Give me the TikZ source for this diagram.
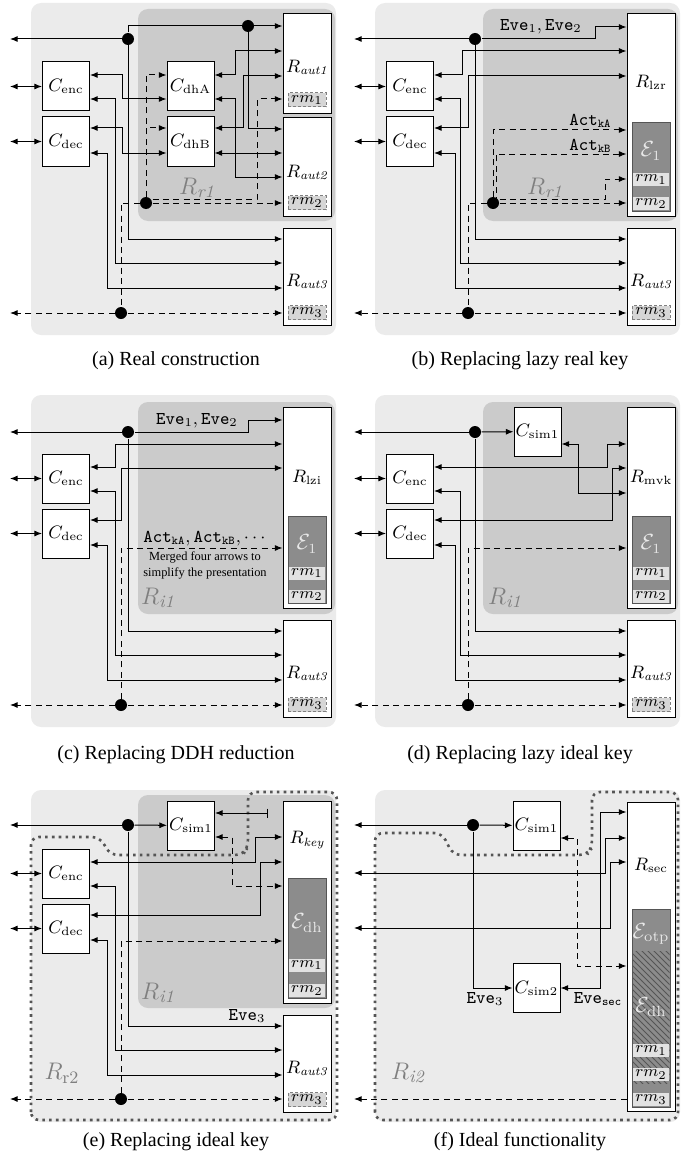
\documentclass[tikz,border=0pt]{standalone}
\usepackage{amsmath}
\usepackage{amssymb}
\usepackage{fontspec}
\newfontfamily\capfont{Liberation Serif}
\usetikzlibrary{arrows.meta,patterns}
\definecolor{bglight}{HTML}{EBEBEB}
\definecolor{bgdark}{HTML}{CBCBCB}
\definecolor{egray}{HTML}{8C8C8C}
\definecolor{rmgray}{HTML}{E2E2E2}
\definecolor{rmdashgray}{HTML}{D6D6D6}
\definecolor{lblgray}{HTML}{7F7F7F}
\definecolor{elight}{HTML}{E8E8E8}
\definecolor{lnk}{HTML}{555555}

\begin{document}
\begin{tikzpicture}[x=0.5pt,y=-0.5pt, font=\fontsize{9}{11}\selectfont, line width=0.5pt,
  >={Latex[length=3.8pt,width=3pt]},
  lightbg/.style={fill=bglight, rounded corners=5pt},
  darkbg/.style={fill=bgdark, rounded corners=5pt},
  cbox/.style={draw, fill=white, minimum width=23.5pt, minimum height=24.5pt, inner sep=0pt},
  rbox/.style={draw, fill=white, minimum width=24pt, inner sep=0pt},
  ebox/.style={draw=lnk, fill=egray, minimum width=19pt, inner sep=0pt},
  rmstrip/.style={fill=rmgray, minimum width=18pt, minimum height=6.5pt, inner sep=0pt, font=\fontsize{8}{9}\selectfont},
  rmdash/.style={draw=gray, fill=rmdashgray, dash pattern=on 1.5pt off 1pt, minimum width=19pt, minimum height=7pt, inner sep=0pt, font=\fontsize{8}{9}\selectfont},
  junction/.style={circle, fill, inner sep=0pt, minimum size=6pt},
  dlink/.style={dash pattern=on 3pt off 2.2pt},
  reglabel/.style={text=lblgray, font=\fontsize{12.5}{14}\selectfont},
  elabel/.style={text=elight, font=\fontsize{10.5}{12}\selectfont},
  regionline/.style={draw=lnk, line width=1.3pt, dash pattern=on 1.3pt off 2.1pt, rounded corners=4pt},
  captext/.style={font=\capfont\fontsize{10}{12}\selectfont, anchor=base},
  notetext/.style={font=\capfont\fontsize{6.2}{8}\selectfont, align=center}]
\useasboundingbox (0,0) rectangle (680,1161);

% (a)
\begin{scope}
  \fill[lightbg] (31,3) rectangle (336,335);
  \fill[darkbg] (138,9) rectangle (335,221);
  \node[reglabel] (a-reg) at (197,188) {$R_{\mathit{r1}}$};
  \coordinate (a-l) at (10,0);
  \node[cbox] (a-enc) at (66,86.5) {$C_{\mathrm{enc}}$};
  \node[cbox] (a-dec) at (66,141.5) {$C_{\mathrm{dec}}$};
  \node[cbox] (a-dhA) at (190.5,86.5) {$C_{\mathrm{dhA}}$};
  \node[cbox] (a-dhB) at (190.5,141.5) {$C_{\mathrm{dhB}}$};
  \node[rbox, minimum height=50pt] (a-aut1) at (307,64) {};
  \node (a-aut1-t) at (307,67) {$R_{\mathit{aut1}}$};
  \node[rmdash] (a-rm1) at (307,100) {$rm_1$};
  \node[rbox, minimum height=49pt] (a-aut2) at (307,167) {};
  \node (a-aut2-t) at (307,172) {$R_{\mathit{aut2}}$};
  \node[rmdash] (a-rm2) at (307,202.5) {$rm_2$};
  \node[rbox, minimum height=48.5pt] (a-aut3) at (307,276.5) {};
  \node (a-aut3-t) at (307,281) {$R_{\mathit{aut3}}$};
  \node[rmdash] (a-rm3) at (307,312.5) {$rm_3$};
  \node[junction] (a-j1) at (128,39) {};
  \node[junction] (a-j2) at (248,26) {};
  \node[junction] (a-j3) at (146,203) {};
  \node[junction] (a-j4) at (121,313) {};
  \draw[->] (a-j1) -- (a-j1 -| a-l);
  \draw[->] (a-j1) |- (a-aut1.west |- a-j2);
  \draw[->] (a-j2) |- (a-aut2.west |- 0,129);
  \draw[->] (a-j1) |- (a-aut3.west |- 0,239);
  \draw[<->] (a-enc.west) -- (a-enc.west -| a-l);
  \draw[<->] (a-dec.west) -- (a-dec.west -| a-l);
  \draw[<->] (a-enc.east |- 0,75) -| (122,99) -- (a-dhA.west |- 0,99);
  \draw[<->] (a-enc.east |- 0,99) -| (115,263) -- (a-aut3.west |- 0,263);
  \draw[<->] (a-dec.east |- 0,128) -| (122,153) -- (a-dhB.west |- 0,153);
  \draw[<->] (a-dec.east |- 0,153) -| (107,288) -- (a-aut3.west |- 0,288);
  \draw[<->] (a-dhA.east |- 0,75) -| (235,51) -- (a-aut1.west |- 0,51);
  \draw[<->] (a-dhA.east |- 0,99) -| (235,177) -- (a-aut2.west |- 0,177);
  \draw[<->] (a-dhB.east |- 0,128) -| (243,76) -- (a-aut1.west |- 0,76);
  \draw[<->] (a-dhB.east |- 0,153) -- (a-aut2.west |- 0,153);
  \draw[dlink] (a-j3) -| (a-j4);
  \draw[dlink,->] (a-j3) |- (a-dhA.west |- 0,75);
  \draw[dlink,->] (a-j3) |- (a-dhB.west |- 0,128);
  \draw[dlink,->] (a-j3) -- (a-j3 -| a-aut2.west);
  \draw[dlink,->] (a-j3.east |- 0,199) -| (257,99) -- (a-aut1.west |- 0,99);
  \draw[dlink,->] (a-j4) -- (a-j4 -| a-l);
  \draw[dlink,->] (a-j4) -- (a-j4 -| a-aut3.west);
\end{scope}

% (b)
\begin{scope}[shift={(344,0)}]
  \fill[lightbg] (31,3) rectangle (336,335);
  \fill[darkbg] (139,9) rectangle (334,221);
  \node[reglabel] (b-reg) at (201,188) {$R_{\mathit{r1}}$};
  \coordinate (b-l) at (10,0);
  \node[cbox] (b-enc) at (66,86.5) {$C_{\mathrm{enc}}$};
  \node[cbox] (b-dec) at (66,141.5) {$C_{\mathrm{dec}}$};
  \node[rbox, minimum height=101pt] (b-lzr) at (307,115) {};
  \node (b-lzr-t) at (307,82) {$R_{\mathrm{lzr}}$};
  \node[ebox, minimum height=44pt] (b-e) at (307,167) {};
  \node[elabel] (b-e-t) at (307,151) {$\mathcal{E}_1$};
  \node[rmstrip] (b-rm1) at (307,179.5) {$rm_1$};
  \node[rmstrip] (b-rm2) at (307,203.5) {$rm_2$};
  \node[rbox, minimum height=48.5pt] (b-aut3) at (307,276.5) {};
  \node (b-aut3-t) at (307,281) {$R_{\mathit{aut3}}$};
  \node[rmdash] (b-rm3) at (307,312.5) {$rm_3$};
  \node[junction] (b-j1) at (131,39) {};
  \node[junction] (b-j3) at (149,203) {};
  \node[junction] (b-j4) at (124,313) {};
  \draw[->] (b-j1) -- (b-j1 -| b-l);
  \draw[->] (b-j1) -| (251,27) -- (b-lzr.west |- 0,27);
  \node (b-eve) at (197,27) {$\texttt{Eve}_1,\texttt{Eve}_2$};
  \draw[->] (b-j1) |- (b-aut3.west |- 0,239);
  \draw[<->] (b-enc.west) -- (b-enc.west -| b-l);
  \draw[<->] (b-dec.west) -- (b-dec.west -| b-l);
  \draw[<->] (b-enc.east |- 0,75) -| (118,51) -- (b-lzr.west |- 0,51);
  \draw[<->] (b-dec.east |- 0,128) -| (124,76) -- (b-lzr.west |- 0,76);
  \draw[<->] (b-enc.east |- 0,99) -| (116,263) -- (b-aut3.west |- 0,263);
  \draw[<->] (b-dec.east |- 0,153) -| (111,288) -- (b-aut3.west |- 0,288);
  \draw[dlink] (b-j3) -| (b-j4);
  \draw[dlink,->] (b-j3) |- (b-lzr.west |- 0,130);
  \draw[dlink,->] ([xshift=1.5pt]b-j3.center) |- (b-lzr.west |- 0,154);
  \node[anchor=base east, inner sep=0pt] (b-actA) at (268,126) {$\texttt{Act}_{\texttt{kA}}$};
  \node[anchor=base east, inner sep=0pt] (b-actB) at (268,150) {$\texttt{Act}_{\texttt{kB}}$};
  \draw[dlink,->] (b-j3.east |- 0,199) -| (261,179) -- (b-lzr.west |- 0,179);
  \draw[dlink,->] (b-j3) -- (b-j3 -| b-lzr.west);
  \draw[dlink,->] (b-j4) -- (b-j4 -| b-l);
  \draw[dlink,->] (b-j4) -- (b-j4 -| b-aut3.west);
\end{scope}

% (c)
\begin{scope}[shift={(0,392)}]
  \fill[lightbg] (31,3) rectangle (336,335);
  \fill[darkbg] (138,10) rectangle (335,222);
  \node[reglabel] (c-reg) at (158,206) {$R_{\mathit{i1}}$};
  \coordinate (c-l) at (10,0);
  \node[cbox] (c-enc) at (66,86.5) {$C_{\mathrm{enc}}$};
  \node[cbox] (c-dec) at (66,141.5) {$C_{\mathrm{dec}}$};
  \node[rbox, minimum height=100.5pt] (c-lzi) at (307,115.5) {};
  \node (c-lzi-t) at (307,85) {$R_{\mathrm{lzi}}$};
  \node[ebox, minimum height=43.5pt] (c-e) at (307,167.5) {};
  \node[elabel] (c-e-t) at (307,152) {$\mathcal{E}_1$};
  \node[rmstrip] (c-rm1) at (307,181) {$rm_1$};
  \node[rmstrip] (c-rm2) at (307,204) {$rm_2$};
  \node[rbox, minimum height=48.5pt] (c-aut3) at (307,276.5) {};
  \node (c-aut3-t) at (307,281) {$R_{\mathit{aut3}}$};
  \node[rmdash] (c-rm3) at (307,312.5) {$rm_3$};
  \node[junction] (c-j1) at (128,40) {};
  \node[junction] (c-j4) at (121,313) {};
  \draw[->] (c-j1) -- (c-j1 -| c-l);
  \draw[->] (c-j1) -| (248,28) -- (c-lzi.west |- 0,28);
  \node (c-eve) at (197,29) {$\texttt{Eve}_1,\texttt{Eve}_2$};
  \draw[->] (c-j1) |- (c-aut3.west |- 0,239);
  \draw[<->] (c-enc.west) -- (c-enc.west -| c-l);
  \draw[<->] (c-dec.west) -- (c-dec.west -| c-l);
  \draw[<->] (c-enc.east |- 0,75) -| (115,52) -- (c-lzi.west |- 0,52);
  \draw[<->] (c-dec.east |- 0,128) -| (121,76) -- (c-lzi.west |- 0,76);
  \draw[<->] (c-enc.east |- 0,99) -| (115,263) -- (c-aut3.west |- 0,263);
  \draw[<->] (c-dec.east |- 0,153) -| (107,288) -- (c-aut3.west |- 0,288);
  \draw[dlink,->] (c-j4) |- (c-lzi.west |- 0,156);
  \node[anchor=base, inner sep=0pt] (c-act) at (206,150) {$\texttt{Act}_{\texttt{kA}},\texttt{Act}_{\texttt{kB}},\cdots$};
  \node[notetext] (c-note) at (205,173) {Merged four arrows to\\simplify the presentation};
  \draw[dlink,->] (c-j4) -- (c-j4 -| c-l);
  \draw[dlink,->] (c-j4) -- (c-j4 -| c-aut3.west);
\end{scope}

% (d)
\begin{scope}[shift={(344,392)}]
  \fill[lightbg] (31,3) rectangle (336,335);
  \fill[darkbg] (139,10) rectangle (334,222);
  \node[reglabel] (d-reg) at (161,206) {$R_{\mathit{i1}}$};
  \coordinate (d-l) at (10,0);
  \node[cbox] (d-enc) at (66,86.5) {$C_{\mathrm{enc}}$};
  \node[cbox] (d-dec) at (66,141.5) {$C_{\mathrm{dec}}$};
  \node[cbox] (d-sim1) at (193.5,39.5) {$C_{\mathrm{sim1}}$};
  \node[rbox, minimum height=100.5pt] (d-mvk) at (307,115.5) {};
  \node (d-mvk-t) at (307,85) {$R_{\mathrm{mvk}}$};
  \node[ebox, minimum height=43.5pt] (d-e) at (307,167.5) {};
  \node[elabel] (d-e-t) at (307,152) {$\mathcal{E}_1$};
  \node[rmstrip] (d-rm1) at (307,181) {$rm_1$};
  \node[rmstrip] (d-rm2) at (307,204) {$rm_2$};
  \node[rbox, minimum height=48.5pt] (d-aut3) at (307,276.5) {};
  \node (d-aut3-t) at (307,281) {$R_{\mathit{aut3}}$};
  \node[rmdash] (d-rm3) at (307,312.5) {$rm_3$};
  \node[junction] (d-j1) at (131,40) {};
  \node[junction] (d-j4) at (124,313) {};
  \draw[->] (d-j1) -- (d-j1 -| d-l);
  \draw[->] (d-j1) -- (d-sim1);
  \draw[->] (d-j1) |- (d-aut3.west |- 0,239);
  \draw[<->] (d-enc.west) -- (d-enc.west -| d-l);
  \draw[<->] (d-dec.west) -- (d-dec.west -| d-l);
  \draw[<->] (d-sim1.east |- 0,52) -| (234,101) -- (d-mvk.west |- 0,101);
  \draw[<->] (d-enc.east |- 0,75) -| (263,52) -- (d-mvk.west |- 0,52);
  \draw[<->] (d-dec.east |- 0,128) -| (268,76) -- (d-mvk.west |- 0,76);
  \draw[<->] (d-enc.east |- 0,99) -| (116,263) -- (d-aut3.west |- 0,263);
  \draw[<->] (d-dec.east |- 0,153) -| (111,288) -- (d-aut3.west |- 0,288);
  \draw[dlink,->] (d-j4) |- (d-mvk.west |- 0,156);
  \draw[dlink,->] (d-j4) -- (d-j4 -| d-l);
  \draw[dlink,->] (d-j4) -- (d-j4 -| d-aut3.west);
\end{scope}

% (e)
\begin{scope}[shift={(0,787)}]
  \fill[lightbg] (31,3) rectangle (336,335);
  \fill[darkbg] (138,8) rectangle (335,221);
  \draw[regionline] (31,333) -- (31,50) -- (100,50) -- (110,68) -- (243,68) -- (248,60)
    -- (248,5) -- (337,5) -- (337,333) -- cycle;
  \node[reglabel] (e-reg) at (158,206) {$R_{\mathit{i1}}$};
  \node[reglabel] (e-reg2) at (62,286) {$R_{\mathrm{r2}}$};
  \coordinate (e-l) at (10,0);
  \coordinate (e-bar) at (268,26);
  \node[cbox] (e-enc) at (66,86.5) {$C_{\mathrm{enc}}$};
  \node[cbox] (e-dec) at (66,141.5) {$C_{\mathrm{dec}}$};
  \node[cbox] (e-sim1) at (191,38.5) {$C_{\mathrm{sim1}}$};
  \node[rbox, minimum height=101pt] (e-key) at (307,115) {};
  \node (e-key-t) at (307,53) {$R_{\mathit{key}}$};
  \node[ebox, minimum height=60pt] (e-e) at (307,151) {};
  \node[elabel] (e-e-t) at (307,136) {$\mathcal{E}_{\mathrm{dh}}$};
  \node[rmstrip] (e-rm1) at (307,178) {$rm_1$};
  \node[rmstrip] (e-rm2) at (307,203.5) {$rm_2$};
  \node[rbox, minimum height=48.5pt] (e-aut3) at (307,276.5) {};
  \node (e-aut3-t) at (307,281) {$R_{\mathit{aut3}}$};
  \node[rmdash] (e-rm3) at (307,312.5) {$rm_3$};
  \node[junction] (e-j1) at (128,38) {};
  \node[junction] (e-j4) at (121,312) {};
  \draw[->] (e-j1) -- (e-j1 -| e-l);
  \draw[->] (e-j1) -- (e-sim1);
  \draw[->] (e-j1) |- (e-aut3.west |- 0,239);
  \node (e-eve) at (247,229) {$\texttt{Eve}_3$};
  \draw[<-{Bar[width=4.5pt]}] (e-sim1.east |- e-bar) -- (e-bar);
  \draw[dlink,<->] (e-sim1.east |- 0,50) -| (232,99) -- (e-key.west |- 0,99);
  \draw[<->] (e-enc.west) -- (e-enc.west -| e-l);
  \draw[<->] (e-dec.west) -- (e-dec.west -| e-l);
  \draw[<->] (e-enc.east |- 0,75) -| (255,50) -- (e-key.west |- 0,50);
  \draw[<->] (e-dec.east |- 0,128) -| (260,75) -- (e-key.west |- 0,75);
  \draw[<->] (e-enc.east |- 0,99) -| (115,263) -- (e-aut3.west |- 0,263);
  \draw[<->] (e-dec.east |- 0,153) -| (107,288) -- (e-aut3.west |- 0,288);
  \draw[dlink,->] (e-j4) |- (e-key.west |- 0,154);
  \draw[dlink,->] (e-j4) -- (e-j4 -| e-l);
  \draw[dlink,->] (e-j4) -- (e-j4 -| e-aut3.west);
\end{scope}

% (f)
\begin{scope}[shift={(344,787)}]
  \fill[lightbg] (31,3) rectangle (336,335);
  \draw[regionline] (31,333) -- (31,46) -- (98,46) -- (109,68) -- (243,68) -- (248,61)
    -- (248,5) -- (334,5) -- (334,333) -- cycle;
  \node[reglabel] (f-reg) at (64,286) {$R_{\mathit{i2}}$};
  \coordinate (f-l) at (10,0);
  \node[cbox] (f-sim1) at (192.5,38.5) {$C_{\mathrm{sim1}}$};
  \node[cbox] (f-sim2) at (192.5,201) {$C_{\mathrm{sim2}}$};
  \node[rbox, minimum height=154.5pt] (f-sec) at (307,169.5) {};
  \node (f-sec-t) at (307,78) {$R_{\mathrm{sec}}$};
  \node[ebox, minimum height=99pt] (f-e) at (307,221) {};
  \fill[pattern=north west lines, pattern color=lnk] (288.5,164) rectangle (325.5,296);
  \node[elabel] (f-otp) at (307,147) {$\mathcal{E}_{\mathrm{otp}}$};
  \node[elabel] (f-dh) at (307,220) {$\mathcal{E}_{\mathrm{dh}}$};
  \node[rmstrip] (f-rm1) at (307,263.5) {$rm_1$};
  \node[rmstrip] (f-rm2) at (307,287.5) {$rm_2$};
  \node[rmstrip] (f-rm3) at (307,312.5) {$rm_3$};
  \node[junction] (f-j1) at (129,38) {};
  \draw[->] (f-j1) -- (f-j1 -| f-l);
  \draw[->] (f-j1) -- (f-sim1);
  \draw[->] (f-j1) |- (f-sim2);
  \node (f-eve3) at (141,212) {$\texttt{Eve}_3$};
  \draw[dlink,<->] (f-sim1.east |- 0,51) -| (233,179) -- (f-sec.west |- 0,179);
  \draw[<->] (f-sim2.east) -| (256,25) -- (f-sec.west |- 0,25);
  \node (f-evesec) at (254,212) {$\texttt{Eve}_{\texttt{sec}}$};
  \draw[<->] (f-l |- 0,86) -| (261,51) -- (f-sec.west |- 0,51);
  \draw[<->] (f-l |- 0,141) -| (266,75) -- (f-sec.west |- 0,75);
  \draw[dlink,->] (f-sec.west |- 0,312) -- (f-l |- 0,312);
\end{scope}

\node[captext] (cap-a) at (176,365) {(a) Real construction};
\node[captext] (cap-b) at (520,365) {(b) Replacing lazy real key};
\node[captext] (cap-c) at (176,759) {(c) Replacing DDH reduction};
\node[captext] (cap-d) at (520,759) {(d) Replacing lazy ideal key};
\node[captext] (cap-e) at (176,1146) {(e) Replacing ideal key};
\node[captext] (cap-f) at (520,1146) {(f) Ideal functionality};
\end{tikzpicture}
\end{document}
